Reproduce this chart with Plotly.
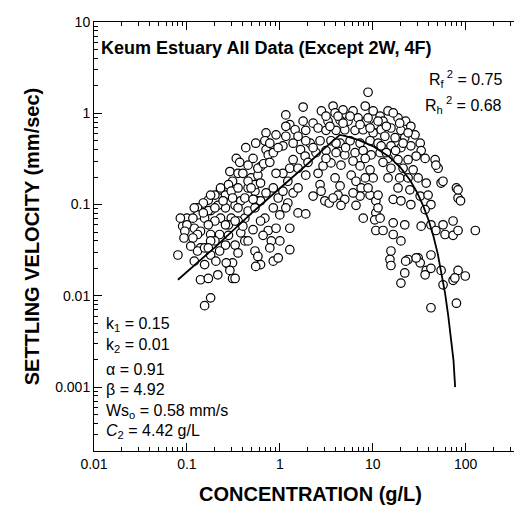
import plotly.graph_objects as go

conc = [
    # left band
    0.71, 0.69, 0.71, 0.75, 0.62, 0.34, 0.37, 0.455, 0.29, 0.355, 0.31, 0.28, 0.23, 0.20, 0.17,
    0.15, 0.13, 0.13, 0.10, 0.09, 0.12, 0.14, 0.18, 0.225, 0.28, 0.14, 0.13, 0.08, 0.18, 0.205,
    0.155, 0.28, 0.31, 0.215, 0.14, 0.17, 0.31, 0.18, 0.155, 0.38, 0.42, 0.455, 0.58, 0.54, 0.62,
    0.58, 0.85, 0.69, 0.75, 0.81, 0.26, 0.33, 0.38, 0.215, 0.18, 0.23, 0.30, 0.355, 0.28, 0.20,
    0.155, 0.17, 0.20, 0.26, 0.33, 0.42, 0.26, 0.30, 0.355, 0.455, 0.54, 0.49, 0.54, 0.58, 0.455,
    0.265, 0.29, 0.33, 0.55, 0.23, 0.58, 0.67, 0.18, 0.12, 0.085, 0.10, 0.17, 0.20, 0.355, 0.42,
    0.49, 0.26, 0.33, 0.54, 0.62, 0.13, 0.18, 0.455, 0.62, 0.155, 0.12,
    0.40, 0.515, 0.43, 0.55, 0.78, 0.85, 0.62, 0.71, 0.515, 0.31, 0.245, 0.15, 0.116, 0.095, 0.116,
    0.17, 0.225, 0.355, 0.40, 0.515, 0.66, 0.78, 0.96, 1.08, 0.96, 1.22, 1.39, 1.57, 0.11, 0.093,
    # middle / peak
    8.9, 1.78, 1.16, 2.8, 3.74, 3.93, 4.79, 6.14, 8.3, 10.1, 12.0, 3.3, 4.45, 5.42, 6.95,
    8.5, 10.8, 2.28, 1.78, 1.28, 1.46, 0.91, 1.16, 1.9, 2.58, 3.14, 4.03, 5.0, 6.45, 7.87,
    10.1, 12.3, 1.08, 1.67, 2.12, 2.71, 3.55, 4.45, 5.7, 7.3, 9.35, 11.4, 1.39, 1.87, 2.45,
    3.14, 4.03, 5.0, 6.45, 7.87, 9.6, 12.0, 1.28, 1.9, 2.92, 3.55, 4.55, 5.86, 7.3, 9.35,
    10.1, 2.71, 3.93, 4.45, 6.6, 7.5, 0.85, 1.08, 2.28, 3.05, 3.4, 4.23, 7.3, 9.35, 10.8,
    10.8, 10.5, 10.8, 0.85, 1.0, 1.16, 1.57, 1.9, 0.91, 1.28, 1.0, 1.28,
    # right side
    14.6, 18.7, 22.6, 12.9, 15.7, 20.1, 25.7, 13.5, 17.4, 22.1, 28.5, 12.3, 15.7, 20.1, 25.7,
    32.4, 33.2, 36.6, 29.3, 24.0, 18.7, 14.6, 46.9, 50.5, 54.4, 37.6, 79.5, 19.5, 18.7, 25.1,
    16.6, 20.1, 25.7, 32.4, 39.4, 42.3, 36.6, 82.8, 11.4, 11.4, 12.0, 12.9, 16.6, 22.1, 16.6,
    20.1, 15.7, 33.2, 42.3, 47.8, 57.1, 73.2, 60.0, 73.2, 82.8, 127, 42.3, 30.8, 24.0, 15.3,
    15.7, 22.1, 37.6, 42.3, 54.4, 82.8, 99, 73.2, 20.1, 22.6, 32.4, 36.6, 57.1, 42.3, 76.5,
    79.5, 29.3, 82.8, 88, 57, 47.8,
    # peak fill
    3.14, 3.46, 4.23, 4.79, 5.7, 7.3, 8.9, 9.35, 11.4, 14.0, 16.6, 19.5, 24.0, 21.2, 17.6,
    14.0, 12.9, 15.7, 21.2, 27.2, 30.8, 24.0, 14.6, 8.3, 6.14, 5.1, 4.03, 3.14, 2.28, 1.9,
    1.57, 1.39, 1.16, 0.957, 0.78, 0.91, 1.22, 1.57, 2.01, 2.58, 6.14, 8.3, 8.9, 5.0, 6.6,
    7.9, 2.78, 3.74, 4.55,
]
ws = [
    # left band
    0.61, 0.50, 0.40, 0.35, 0.26, 0.32, 0.29, 0.27, 0.23, 0.22, 0.18, 0.165, 0.145, 0.127, 0.112,
    0.104, 0.092, 0.077, 0.071, 0.058, 0.055, 0.051, 0.047, 0.047, 0.046, 0.0335, 0.031, 0.028, 0.028, 0.024,
    0.022, 0.022, 0.023, 0.017, 0.015, 0.0155, 0.0155, 0.0095, 0.0078, 0.049, 0.071, 0.085, 0.11, 0.031, 0.022,
    0.027, 0.024, 0.071, 0.052, 0.040, 0.092, 0.098, 0.11, 0.098, 0.086, 0.071, 0.071, 0.066, 0.060, 0.066,
    0.071, 0.060, 0.040, 0.036, 0.036, 0.040, 0.127, 0.14, 0.152, 0.152, 0.14, 0.196, 0.165, 0.21, 0.18,
    0.023, 0.019, 0.0155, 0.021, 0.152, 0.25, 0.28, 0.127, 0.092, 0.071, 0.060, 0.086, 0.092, 0.092, 0.118,
    0.152, 0.060, 0.066, 0.092, 0.11, 0.047, 0.040, 0.040, 0.066, 0.0335, 0.024,
    0.22, 0.32, 0.42, 0.47, 0.47, 0.37, 0.172, 0.134, 0.114, 0.118, 0.11, 0.081, 0.071, 0.051, 0.043,
    0.0335, 0.031, 0.0295, 0.058, 0.053, 0.046, 0.0335, 0.026, 0.22, 0.118, 0.104, 0.134, 0.152, 0.035, 0.043,
    # middle / peak
    1.7, 1.17, 0.96, 1.06, 1.20, 1.01, 1.09, 1.06, 1.2, 1.06, 0.93, 0.82, 0.84, 0.82, 0.89,
    0.82, 0.75, 0.78, 0.82, 0.75, 0.66, 0.58, 0.56, 0.65, 0.69, 0.65, 0.65, 0.66, 0.65, 0.66,
    0.61, 0.66, 0.44, 0.40, 0.47, 0.50, 0.50, 0.47, 0.50, 0.47, 0.50, 0.47, 0.31, 0.34, 0.37,
    0.39, 0.37, 0.35, 0.37, 0.39, 0.35, 0.37, 0.25, 0.21, 0.265, 0.286, 0.27, 0.21, 0.265, 0.24,
    0.196, 0.165, 0.196, 0.16, 0.18, 0.152, 0.152, 0.14, 0.124, 0.11, 0.104, 0.127, 0.124, 0.127, 0.11,
    0.081, 0.068, 0.052, 0.092, 0.077, 0.092, 0.081, 0.079, 0.055, 0.055, 0.040, 0.032,
    # right side
    1.06, 0.89, 0.82, 0.82, 0.69, 0.65, 0.72, 0.56, 0.54, 0.54, 0.58, 0.44, 0.44, 0.42, 0.44,
    0.47, 0.39, 0.32, 0.34, 0.31, 0.31, 0.32, 0.31, 0.25, 0.172, 0.172, 0.152, 0.196, 0.152, 0.145,
    0.114, 0.11, 0.10, 0.124, 0.127, 0.10, 0.088, 0.118, 0.127, 0.092, 0.071, 0.052, 0.063, 0.060, 0.047,
    0.040, 0.031, 0.058, 0.060, 0.052, 0.060, 0.066, 0.047, 0.046, 0.052, 0.052, 0.028, 0.026, 0.025, 0.025,
    0.0215, 0.0178, 0.019, 0.020, 0.019, 0.019, 0.0165, 0.0148, 0.0138, 0.024, 0.023, 0.017, 0.0132, 0.0074, 0.0157,
    0.0083, 0.026, 0.145, 0.11, 0.18, 0.27,
    # peak fill
    0.93, 0.72, 0.93, 0.78, 0.93, 0.75, 0.89, 0.69, 0.82, 0.72, 1.01, 0.78, 0.61, 0.47, 0.39,
    0.37, 0.29, 0.25, 0.25, 0.24, 0.196, 0.196, 0.196, 0.32, 0.30, 0.42, 0.47, 0.32, 0.42, 0.50,
    0.56, 0.47, 0.72, 0.42, 0.29, 0.22, 0.18, 0.25, 0.29, 0.22, 0.134, 0.196, 0.152, 0.114, 0.098,
    0.071, 0.14, 0.118, 0.098,
]

# Fitted curve (flocculation + hindered settling)
curve_conc = [0.08, 0.2, 0.5, 1, 2, 3, 4.42, 5, 7, 10, 15, 20, 25, 30, 35, 40, 45, 50, 55,
              60, 65, 70, 74, 77]
curve_ws = [0.015, 0.034, 0.081, 0.15, 0.28, 0.41, 0.58, 0.564, 0.51, 0.437, 0.335, 0.252,
            0.187, 0.136, 0.096, 0.067, 0.045, 0.029, 0.018, 0.0107, 0.006, 0.0031, 0.00195,
            0.001]

title_text = "Keum Estuary All Data (Except 2W, 4F)"
r2_lines = ["R<sub>f</sub><sup> 2</sup> = 0.75", "R<sub>h</sub><sup> 2</sup> = 0.68"]
param_lines = ["k<sub>1</sub> = 0.15", "k<sub>2</sub> = 0.01", "α = 0.91", "β = 4.92",
               "Ws<sub>o</sub> = 0.58 mm/s", "<i>C</i><sub>2</sub> = 4.42 g/L"]

FONT = "Liberation Sans, Arial, Helvetica, sans-serif"

fig = go.Figure()
fig.add_trace(go.Scatter(
    x=conc, y=ws, mode="markers",
    marker=dict(symbol="circle", size=8.5, color="white", line=dict(color="black", width=1.2)),
    hoverinfo="x+y"))
fig.add_trace(go.Scatter(
    x=curve_conc, y=curve_ws, mode="lines",
    line=dict(color="black", width=1.8), hoverinfo="skip"))

axis_common = dict(
    type="log", dtick=1, ticks="inside", ticklen=8, tickwidth=1, tickcolor="black",
    showline=True, linecolor="black", linewidth=1, mirror="allticks",
    showgrid=False, zeroline=False,
    tickfont=dict(family=FONT, size=14, color="black"),
    minor=dict(ticks="inside", ticklen=4, tickcolor="black", dtick="D1", showgrid=False),
)

fig.update_xaxes(range=[-2, 2.66],
                 title=dict(text="<b>CONCENTRATION (g/L)</b>",
                            font=dict(family=FONT, size=20, color="black"), standoff=16),
                 **axis_common)
fig.update_yaxes(range=[-3.7, 1],
                 title=dict(text="<b>SETTLING VELOCITY (mm/sec)</b>",
                            font=dict(family=FONT, size=20, color="black"), standoff=10),
                 **axis_common)

annotations = [dict(text="<b>" + title_text + "</b>", x=0.012, y=0.939, xref="paper", yref="paper",
                    xanchor="left", yanchor="middle", showarrow=False,
                    font=dict(family=FONT, size=18, color="black"))]
for txt, yy in zip(r2_lines, [0.867, 0.807]):
    annotations.append(dict(text=txt, x=0.946, y=yy, xref="paper", yref="paper",
                            xanchor="right", yanchor="middle", showarrow=False,
                            font=dict(family=FONT, size=16, color="black")))
for txt, yy in zip(param_lines, [0.294, 0.247, 0.189, 0.143, 0.093, 0.046]):
    annotations.append(dict(text=txt, x=0.022, y=yy, xref="paper", yref="paper",
                            xanchor="left", yanchor="middle", showarrow=False,
                            font=dict(family=FONT, size=16, color="black")))

fig.update_layout(
    width=522, height=506,
    margin=dict(l=86, r=3, t=14, b=63),
    plot_bgcolor="white", paper_bgcolor="white",
    showlegend=False,
    annotations=annotations,
)

fig.write_html("out.html")
